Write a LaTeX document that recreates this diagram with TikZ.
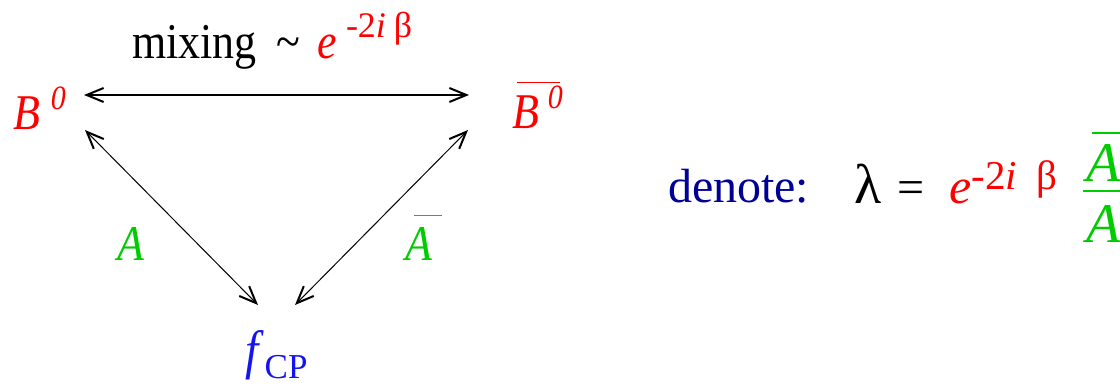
\documentclass[tikz,border=0pt]{standalone}
\usepackage{fontspec}
\setmainfont{Liberation Serif}[FakeStretch=0.88]
\newfontfamily\eqfont{Liberation Serif}
\usetikzlibrary{arrows.meta}
\definecolor{grn}{RGB}{0,204,0}
\definecolor{navy}{RGB}{0,0,150}
\definecolor{fblue}{RGB}{20,20,240}
\newcommand{\supfont}{\fontsize{34}{36}\selectfont}
\newcommand{\bigsup}{\eqfont\fontsize{36}{38}\selectfont}
\tikzset{mybarb/.tip={Straight Barb[length=17pt,width=14pt,line width=2pt]}}
\begin{document}
\begin{tikzpicture}[x=1pt,y=-1pt,
  txt/.style={inner sep=0pt,outer sep=0pt,anchor=base west,font=\fontsize{50}{54}\selectfont},
  eqtxt/.style={inner sep=0pt,outer sep=0pt,anchor=base west,font=\eqfont\fontsize{48}{52}\selectfont},
  link/.style={mybarb-mybarb, line width=1pt}]
\useasboundingbox (0,0) rectangle (1120,390);
% top label
\node[txt] (mix) at (132,59) {mixing\hspace{20pt}\textasciitilde\hspace{17pt}\textcolor{red}{\textit{e}\hspace{9pt}\raisebox{21pt}{\bigsup -2\textit{i}\hspace{8pt}β}}};
% B nodes
\node[txt,red] (b0) at (13,130) {\textit{B}\hspace{11pt}\raisebox{20pt}{\supfont\textit{0}}};
\node[txt,red] (bb0) at (512,129) {\rlap{\raisebox{46pt}{\hspace{5pt}\rule{43pt}{1.4pt}}}\textit{B}\hspace{9pt}\raisebox{20pt}{\supfont\textit{0}}};
% final state
\node[txt,fblue,font=\fontsize{54}{56}\selectfont] (fcp) at (245,368) {\textit{f}\hspace{1pt}\raisebox{-10pt}{\eqfont\fontsize{35}{37}\selectfont CP}};
% amplitudes
\node[txt,grn] (la) at (117,261) {\textit{A}};
\node[txt,grn] (lab) at (405,261) {\rlap{\raisebox{45pt}{\hspace{9pt}\rule{28pt}{1.4pt}}}\textit{A}};
% connectors
\draw[link,line width=1.4pt] ([shift={(71,-35)}]b0.base west) -- ([shift={(-43,-34)}]bb0.base west);
\draw[link] ([shift={(72,0)}]b0.base west) -- ([shift={(13,-63)}]fcp.base west);
\draw[link] ([shift={(-44,1)}]bb0.base west) -- ([shift={(50,-63)}]fcp.base west);
% definition
\node[eqtxt,navy] (den) at (668,203) {denote:};
\node[eqtxt] (lam) at (854,204) {{\fontsize{56}{58}\selectfont λ}\hspace{16pt}=\hspace{25pt}\textcolor{red}{{\fontsize{50}{52}\selectfont\textit{e}}\raisebox{14pt}{\fontsize{41}{43}\selectfont -2\textit{i}\hspace{20pt}β}}};
\node[eqtxt,grn,font=\eqfont\fontsize{56}{60}\selectfont] (num) at (1086,182) {\textit{A}};
\node[eqtxt,grn,font=\eqfont\fontsize{56}{60}\selectfont] (dnm) at (1086,243) {\textit{A}};
\draw[grn,line width=1.3pt] ([shift={(-3,9)}]num.base west) -- ++(50,0);
\draw[grn,line width=1.3pt] ([shift={(6,-49)}]num.base west) -- ++(40,0);
\end{tikzpicture}
\end{document}
